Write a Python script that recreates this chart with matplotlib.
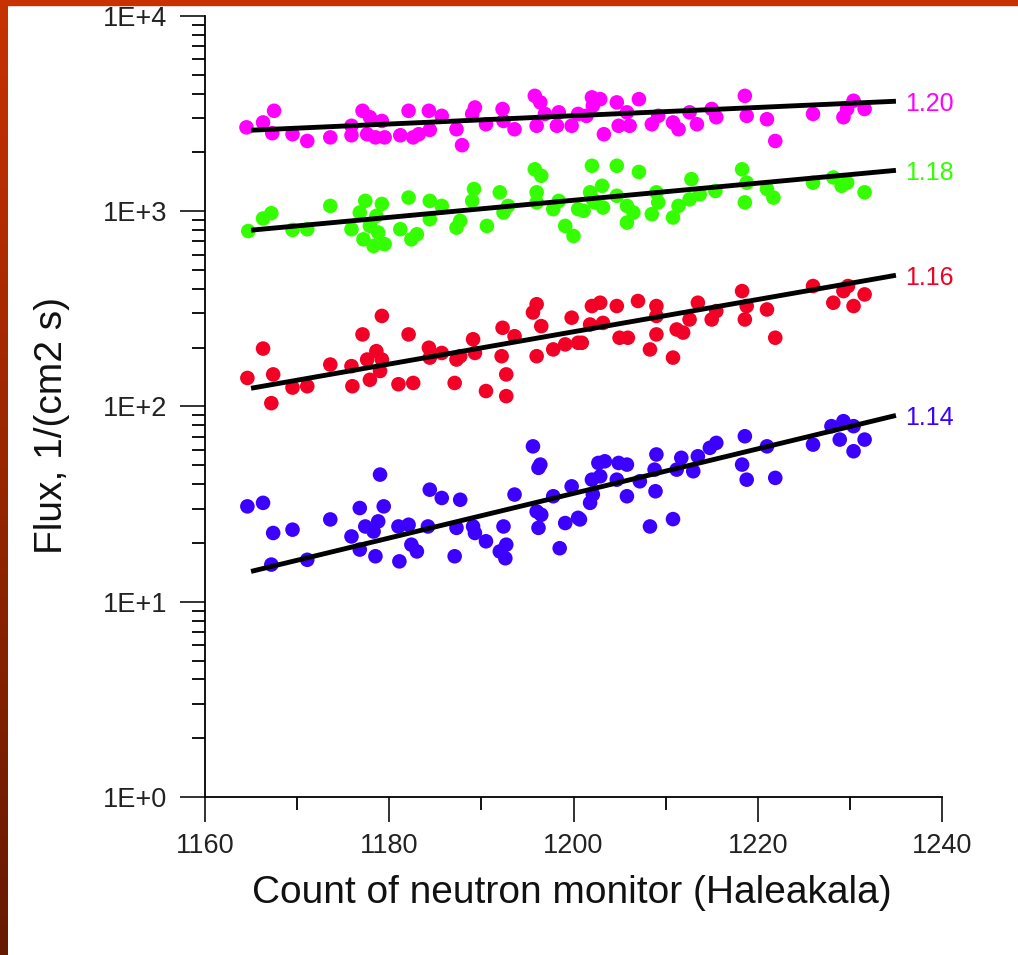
import numpy as np
import matplotlib
matplotlib.use("Agg")
import matplotlib.pyplot as plt
from matplotlib.colors import LinearSegmentedColormap
from matplotlib.ticker import FixedLocator, LogLocator, FuncFormatter, MultipleLocator

plt.rcParams['font.family'] = ['Liberation Sans', 'DejaVu Sans']

# ---- data ----
mag_x = [1164.5, 1166.3, 1167.5, 1167.3, 1169.5, 1171.1, 1173.6, 1175.9, 1175.9, 1177.1,
         1177.9, 1179.2, 1177.6, 1178.5, 1179.5, 1181.2, 1182.1, 1182.6, 1183.2, 1184.3,
         1184.4, 1185.7, 1187.3, 1187.9, 1189.3, 1189.0, 1190.5, 1192.3, 1192.4, 1193.6,
         1195.8, 1196.4, 1196.0, 1196.9, 1198.4, 1198.2, 1199.8, 1200.5, 1202.0, 1202.1,
         1202.9, 1201.4, 1203.3, 1204.7, 1205.8, 1204.9, 1206.1, 1207.1, 1208.5, 1209.2,
         1210.8, 1211.4, 1212.6, 1213.4, 1215.0, 1215.5, 1218.6, 1218.8, 1221.0, 1221.9,
         1226.0, 1229.3, 1230.4, 1229.7, 1231.6]
mag_y = [2690, 2850, 3270, 2510, 2480, 2290, 2390, 2740, 2450, 3270,
         3030, 2900, 2480, 2390, 2390, 2450, 3270, 2390, 2480, 3270,
         2610, 3080, 2630, 2180, 3400, 3150, 2790, 3340, 2900, 2630,
         3900, 3610, 2740, 3150, 3210, 2740, 2740, 3150, 3830, 3470,
         3750, 3080, 2480, 3610, 3210, 2740, 2740, 3750, 2790, 3080,
         2850, 2630, 3210, 2790, 3340, 3030, 3900, 3080, 2960, 2290,
         3150, 3030, 3680, 3340, 3340]

grn_x = [1164.7, 1166.3, 1167.2, 1169.5, 1171.1, 1173.6, 1175.9, 1176.8, 1177.4, 1177.2,
         1178.3, 1179.2, 1178.6, 1177.9, 1179.5, 1178.8, 1181.2, 1182.1, 1183.0, 1182.4,
         1184.4, 1184.4, 1185.7, 1187.3, 1187.7, 1189.2, 1189.0, 1190.6, 1192.0, 1192.4,
         1192.9, 1195.8, 1196.5, 1196.0, 1196.0, 1197.8, 1198.4, 1199.1, 1200.0, 1200.5,
         1202.0, 1201.8, 1202.3, 1204.7, 1207.1, 1201.1, 1202.1, 1203.1, 1203.2, 1204.7,
         1205.8, 1205.8, 1206.5, 1208.5, 1209.0, 1209.2, 1210.8, 1211.4, 1212.6, 1212.8,
         1213.7, 1215.4, 1218.3, 1218.8, 1218.6, 1221.0, 1221.7, 1226.0, 1228.2, 1229.1,
         1229.7, 1231.6]
grn_y = [792, 918, 977, 802, 809, 1065, 809, 985, 1130, 718,
         664, 1090, 946, 841, 678, 778, 809, 1175, 762, 718,
         1130, 910, 1065, 824, 892, 1300, 1130, 841, 1250, 985,
         1065, 1640, 1520, 1250, 1110, 1025, 1130, 841, 747, 1025,
         1710, 1250, 1110, 1710, 1590, 1005, 1150, 1350, 1045, 1200,
         1065, 875, 985, 966, 1250, 1110, 929, 1065, 1150, 1460,
         1220, 1270, 1640, 1400, 1110, 1300, 1175, 1400, 1490, 1350,
         1400, 1250]

red_x = [1164.6, 1166.3, 1167.4, 1167.2, 1169.5, 1171.1, 1173.6, 1175.9, 1176.0, 1177.1,
         1177.6, 1178.6, 1179.2, 1177.9, 1179.0, 1179.2, 1181.0, 1182.6, 1182.1, 1184.3,
         1184.4, 1185.7, 1187.3, 1187.1, 1187.7, 1189.1, 1189.3, 1190.5, 1192.3, 1192.2,
         1192.7, 1192.7, 1193.6, 1196.0, 1195.6, 1196.5, 1196.0, 1197.8, 1199.1, 1199.8,
         1200.5, 1202.0, 1201.8, 1202.9, 1204.7, 1207.0, 1203.2, 1200.9, 1205.0, 1205.9,
         1208.3, 1209.0, 1209.0, 1209.0, 1210.8, 1211.2, 1211.9, 1212.6, 1213.5, 1215.0,
         1215.5, 1218.3, 1218.8, 1218.6, 1221.0, 1221.9, 1226.0, 1228.2, 1229.3, 1229.8,
         1230.4, 1231.6]
red_y = [140, 198, 146, 104, 125, 127, 164, 161, 127, 234,
         174, 192, 174, 137, 152, 291, 130, 132, 234, 200,
         178, 188, 174, 132, 181, 221, 188, 120, 253, 181,
         146, 113, 229, 334, 303, 258, 181, 196, 208, 285,
         212, 327, 263, 340, 327, 347, 268, 212, 225, 225,
         196, 327, 234, 291, 178, 248, 239, 279, 340, 279,
         308, 390, 327, 279, 314, 225, 414, 340, 390, 414,
         327, 375]

blu_x = [1164.6, 1166.3, 1167.4, 1167.2, 1169.5, 1171.1, 1173.6, 1175.9, 1176.8, 1176.8,
         1177.4, 1179.0, 1179.4, 1178.8, 1178.3, 1178.5, 1181.0, 1181.1, 1182.1, 1182.4,
         1183.0, 1184.4, 1184.2, 1185.7, 1187.3, 1187.1, 1187.7, 1189.1, 1189.3, 1190.5,
         1192.4, 1192.7, 1192.0, 1192.6, 1193.6, 1195.6, 1196.4, 1196.2, 1196.0, 1196.5,
         1196.2, 1197.8, 1198.5, 1199.1, 1199.8, 1200.5, 1202.0, 1202.7, 1201.8, 1202.1,
         1200.7, 1203.4, 1202.9, 1204.9, 1205.8, 1204.7, 1205.8, 1207.2, 1209.0, 1208.8,
         1208.9, 1208.3, 1210.8, 1211.2, 1211.7, 1213.0, 1213.5, 1214.8, 1215.5, 1218.6,
         1218.3, 1218.8, 1221.0, 1221.9, 1226.0, 1228.0, 1229.3, 1230.4, 1228.9, 1231.6,
         1230.4]
blu_y = [30.8, 32.1, 22.5, 15.5, 23.4, 16.4, 26.4, 21.6, 30.2, 18.5,
         24.3, 44.8, 30.8, 25.8, 22.9, 17.1, 24.3, 16.1, 24.8, 19.6,
         18.1, 37.5, 24.3, 34.0, 23.9, 17.1, 33.3, 24.3, 22.5, 20.4,
         24.3, 19.6, 18.1, 16.7, 35.4, 62.5, 50.4, 48.5, 29.0, 27.9,
         23.9, 34.7, 18.8, 25.3, 39.0, 26.9, 42.2, 51.4, 32.1, 35.4,
         26.4, 52.4, 43.9, 51.4, 50.4, 42.2, 34.7, 41.4, 56.8, 47.5,
         36.8, 24.3, 26.5, 47.5, 54.6, 46.6, 55.6, 61.4, 65.1, 70.4,
         50.4, 42.2, 62.5, 43.1, 63.8, 79.3, 84.1, 79.3, 67.7, 67.7,
         59.0]

# fitted lines (exponential -> straight on log axis), start/end values
fit_x = [1165, 1235]
fit_mag = [2600, 3660]
fit_grn = [800, 1620]
fit_red = [124, 470]
fit_blu = [14.3, 90]

labels = ["1.20", "1.18", "1.16", "1.14"]
colors = ["#ff00ff", "#33ff00", "#f20025", "#3c00ff"]

series = [(mag_x, mag_y, fit_mag), (grn_x, grn_y, fit_grn),
          (red_x, red_y, fit_red), (blu_x, blu_y, fit_blu)]

fig = plt.figure(figsize=(10.18, 9.55), dpi=100)
fig.patch.set_facecolor("white")

# slide frame: red band on top, darkening band on the left
band = fig.add_axes([0, 0, 8 / 1018, 1])
grad = np.linspace(0, 1, 256).reshape(-1, 1)
cm = LinearSegmentedColormap.from_list("frame", ["#661a00", "#c83200"])
band.imshow(grad, aspect="auto", cmap=cm, origin="lower", extent=[0, 1, 0, 1])
band.axis("off")
fig.patches.append(plt.Rectangle((0, 1 - 5 / 955), 1, 5 / 955, transform=fig.transFigure,
                                 color="#c83200", zorder=5))

ax = fig.add_axes([205 / 1018, 1 - 797 / 955, (942 - 205) / 1018, (797 - 16) / 955])

for (xs, ys, fit), lab, col in zip(series, labels, colors):
    ax.scatter(xs, ys, s=110, color=col, edgecolors="none", zorder=2)
    ax.plot(fit_x, fit, color="black", lw=3.5, zorder=3, solid_capstyle="butt")
    ax.text(1236.0, fit[1], lab, color=col, fontsize=18, ha="left", va="center_baseline")

ax.set_yscale("log")
ax.set_ylim(1, 1e4)
ax.set_xlim(1160, 1240)

ax.spines["top"].set_visible(False)
ax.spines["right"].set_visible(False)
for sp in ("left", "bottom"):
    ax.spines[sp].set_linewidth(1.3)

ax.xaxis.set_major_locator(MultipleLocator(20))
ax.xaxis.set_minor_locator(MultipleLocator(10))
ax.yaxis.set_major_locator(FixedLocator([1, 10, 100, 1000, 10000]))
ax.yaxis.set_minor_locator(LogLocator(base=10, subs=np.arange(2, 10)))
ax.yaxis.set_major_formatter(FuncFormatter(lambda v, p: "1E+%d" % round(np.log10(v))))
ax.yaxis.set_minor_formatter(FuncFormatter(lambda v, p: ""))

ax.tick_params(which="major", direction="out", length=18, width=1.3, labelsize=19.5,
               colors="#222222")
ax.tick_params(which="minor", direction="out", length=9.5, width=1.3)
ax.tick_params(axis="y", which="major", pad=9)
ax.tick_params(axis="x", which="major", pad=8)

fig.text(572 / 1018, 1 - 893 / 955, "Count of neutron monitor (Haleakala)",
         fontsize=28, ha="center", va="center", color="#111111")
fig.text(52 / 1018, 1 - 425 / 955, "Flux, 1/(cm2 s)", fontsize=28, rotation=90,
         ha="center", va="center", color="#111111")

fig.savefig("out.png", dpi=100, facecolor="white")
